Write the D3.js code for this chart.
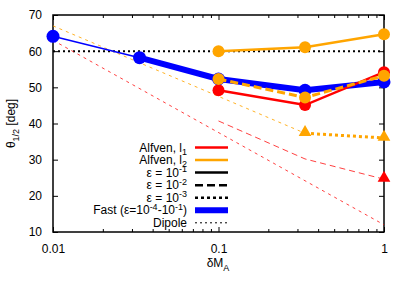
<!DOCTYPE html>
<html>
<head>
<meta charset="utf-8">
<script src="https://cdn.jsdelivr.net/npm/d3@7"></script>
<style>
  body { margin: 0; background: #fff; }
  text { font-family: "Liberation Sans", Arial, sans-serif; fill: #000; }
</style>
</head>
<body>
<svg id="chart"></svg>
<script>
/**
 * Data
 */
const xAlfven = [0.1, 1 / 3, 1];
const l1Eps1 = [49.2, 45.1, 54.2];
const l2Eps1 = [60.0, 61.1, 64.7];
const l2Eps2 = [52.3, 47.2, 53.2];
const xEps3 = [1 / 3, 1];
const l2Eps3 = [37.3, 36.0];
const xL1Eps3 = [1];
const l1Eps3 = [24.6];

const xFast = [0.01, 1 / 30, 0.1, 1 / 3, 1];
const fastTheta = [64.1, 58.2, 52.3, 49.2, 51.5];

// thin guide curves
const xGuideL1a = [0.01, 1];
const guideL1a = [63.0, 12.0];
const xGuideL1b = [0.1, 1 / 3, 1];
const guideL1b = [40.7, 30.2, 24.6];
const xGuideL2 = [0.01, 1 / 3];
const guideL2 = [67.0, 37.3];

const dipoleTheta = 60;

const yTicks = [10, 20, 30, 40, 50, 60, 70];
const xTicks = [0.01, 0.1, 1];
const xTickLabels = ["0.01", "0.1", "1"];

const width = 407;
const height = 285;
const margin = { top: 15, right: 23, bottom: 53, left: 53 };
const red = "#ff0000", orange = "#ffa500", blue = "#0000ff";

/**
 * Canvas
 */
const svg = d3.select("#chart").attr("width", width).attr("height", height);

const x = d3.scaleLog().domain([0.01, 1]).range([margin.left, width - margin.right]);
const y = d3.scaleLinear().domain([10, 70]).range([height - margin.bottom, margin.top]);

const line = d3.line().x(d => x(d[0])).y(d => y(d[1]));
const pts = (xs, ys) => xs.map((v, i) => [v, ys[i]]);

// Axes (gnuplot style: ticks inward, mirrored)
const minor = [];
[0.01, 0.1].forEach(dec => { for (let k = 2; k <= 9; k++) minor.push(dec * k); });

const axes = svg.append("g");
axes.append("g")
    .attr("transform", "translate(0," + y(10) + ")")
    .call(d3.axisBottom(x).tickValues(xTicks).tickFormat((d, i) => xTickLabels[i]).tickSizeInner(-5).tickSizeOuter(0).tickPadding(12));
axes.append("g")
    .attr("transform", "translate(0," + y(10) + ")")
    .call(d3.axisBottom(x).tickValues(minor).tickFormat("").tickSizeInner(-3).tickSizeOuter(0));
axes.append("g")
    .attr("transform", "translate(0," + y(70) + ")")
    .call(d3.axisTop(x).tickValues(xTicks).tickFormat("").tickSizeInner(-5).tickSizeOuter(0));
axes.append("g")
    .attr("transform", "translate(0," + y(70) + ")")
    .call(d3.axisTop(x).tickValues(minor).tickFormat("").tickSizeInner(-3).tickSizeOuter(0));
axes.append("g")
    .attr("transform", "translate(" + x(0.01) + ",0)")
    .call(d3.axisLeft(y).tickValues(yTicks).tickSizeInner(-5).tickSizeOuter(0).tickPadding(11));
axes.append("g")
    .attr("transform", "translate(" + x(1) + ",0)")
    .call(d3.axisRight(y).tickValues(yTicks).tickFormat("").tickSizeInner(-5).tickSizeOuter(0));
axes.selectAll(".domain").remove();
axes.selectAll("line").attr("stroke", "#000").attr("stroke-width", 1);
axes.selectAll("text").style("font-size", "12px").style("font-family", "Liberation Sans, Arial, sans-serif");

svg.append("rect")
   .attr("x", x(0.01)).attr("y", y(70))
   .attr("width", x(1) - x(0.01)).attr("height", y(10) - y(70))
   .attr("fill", "none").attr("stroke", "#000").attr("stroke-width", 1.5);

/**
 * Curves
 */
const plot = svg.append("g");

function path(data, color, w, dash, opacity) {
    plot.append("path")
        .datum(data)
        .attr("d", line)
        .attr("fill", "none")
        .attr("stroke", color)
        .attr("stroke-width", w)
        .attr("stroke-dasharray", dash || null)
        .attr("opacity", opacity || 1);
}
function circles(data, color, r) {
    plot.selectAll(null).data(data).enter().append("circle")
        .attr("cx", d => x(d[0])).attr("cy", d => y(d[1]))
        .attr("r", r).attr("fill", color);
}
function triangles(data, color) {
    plot.selectAll(null).data(data).enter().append("path")
        .attr("d", d3.symbol(d3.symbolTriangle, 70))
        .attr("transform", d => "translate(" + x(d[0]) + "," + (y(d[1]) - 1) + ")")
        .attr("fill", color);
}

// Dipole reference
path(pts([0.01, 1], [dipoleTheta, dipoleTheta]), "#000", 2, "2,3");

// thin guides
path(pts(xGuideL1a, guideL1a), red, 1, "3,4", 0.75);
path(pts(xGuideL1b, guideL1b), red, 1, "6,4", 0.75);
path(pts(xGuideL2, guideL2), orange, 1, "3,4", 0.85);

// eps = 1e-3
path(pts(xEps3, l2Eps3), orange, 3, "3,3");
triangles(pts(xEps3, l2Eps3), orange);
triangles(pts(xL1Eps3, l1Eps3), red);

// Fast
const fast = pts(xFast, fastTheta);
path(fast.slice(0, 2), blue, 1.5);
path(fast.slice(1), blue, 6);
circles(fast, blue, 6.5);

// Alfven eps = 1e-1
path(pts(xAlfven, l1Eps1), red, 2.5);
circles(pts(xAlfven, l1Eps1), red, 6);
path(pts(xAlfven, l2Eps1), orange, 2.5);
circles(pts(xAlfven, l2Eps1), orange, 6);

// Alfven eps = 1e-2
path(pts(xAlfven, l2Eps2), orange, 3, "8,4");
circles(pts(xAlfven, l2Eps2), orange, 6);

/**
 * Axis labels
 */
const xl = svg.append("text")
   .attr("x", 218).attr("y", 267)
   .attr("text-anchor", "middle")
   .style("font-size", "12px");
xl.append("tspan").text("\u03b4M");
xl.append("tspan").attr("dy", 4).style("font-size", "9px").text("A");

const yl = svg.append("text")
   .attr("transform", "translate(15," + ((y(10) + y(70)) / 2) + ") rotate(-90)")
   .attr("text-anchor", "middle")
   .style("font-size", "12px");
yl.append("tspan").text("\u03b8");
yl.append("tspan").attr("dy", 4).style("font-size", "9px").text("1/2");
yl.append("tspan").attr("dy", -4).text(" [deg]");

/**
 * Legend
 */
const legend = [
    { parts: [["Alfven, l", 0], ["1", 1]], color: red, w: 2.5, dash: null },
    { parts: [["Alfven, l", 0], ["2", 1]], color: orange, w: 2.5, dash: null },
    { parts: [["\u03b5 = 10", 0], ["-1", -1]], color: "#000", w: 2.5, dash: null },
    { parts: [["\u03b5 = 10", 0], ["-2", -1]], color: "#000", w: 2.5, dash: "8,4" },
    { parts: [["\u03b5 = 10", 0], ["-3", -1]], color: "#000", w: 2.5, dash: "3,3" },
    { parts: [["Fast (\u03b5=10", 0], ["-4", -1], ["-10", 0], ["-1", -1], [")", 0]], color: blue, w: 6, dash: null },
    { parts: [["Dipole", 0]], color: "#000", w: 1, dash: "2,3" }
];

const lg = svg.append("g");
legend.forEach((item, i) => {
    const ly = 147.5 + i * 12.55;
    lg.append("line")
      .attr("x1", 195).attr("x2", 228).attr("y1", ly).attr("y2", ly)
      .attr("stroke", item.color).attr("stroke-width", item.w)
      .attr("stroke-dasharray", item.dash);
    const t = lg.append("text")
      .attr("x", 187).attr("y", ly + 4)
      .attr("text-anchor", "end")
      .style("font-size", "12px");
    let shift = 0;
    item.parts.forEach(p => {
        const target = p[1] === 1 ? 3 : (p[1] === -1 ? -4.5 : 0);
        t.append("tspan")
         .attr("dy", target - shift)
         .style("font-size", p[1] === 0 ? "12px" : "9px")
         .text(p[0]);
        shift = target;
    });
});
</script>
</body>
</html>
